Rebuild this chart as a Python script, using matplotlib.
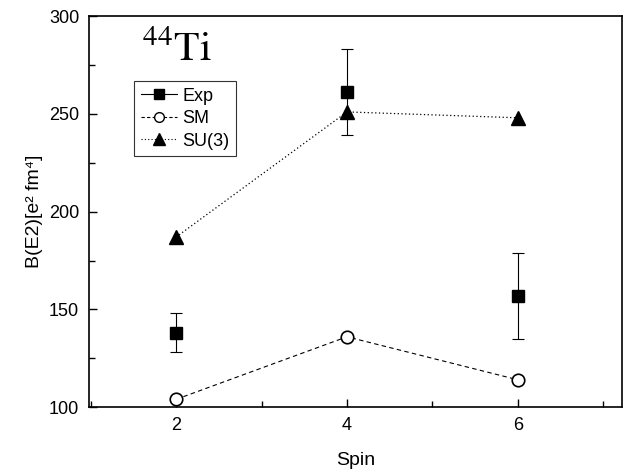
import numpy as np
import matplotlib
matplotlib.use("Agg")
import matplotlib.pyplot as plt
from matplotlib.lines import Line2D
from matplotlib.ticker import MultipleLocator

plt.rcParams['font.family'] = ['Liberation Sans', 'DejaVu Sans']
plt.rcParams['mathtext.fontset'] = 'stix'

# data
spin = [2, 4, 6]
exp_vals = [138, 261, 157]
exp_err = [10, 22, 22]
sm_vals = [104, 136, 114]
su3_vals = [187, 251, 248]

fig = plt.figure(figsize=(6.4, 4.74), dpi=100)
ax = fig.add_axes([0.139, 0.141, 0.833, 0.825])

# Exp points, no connecting line
ax.errorbar(spin, exp_vals, yerr=exp_err, fmt='s', color='black', ms=8,
            elinewidth=0.8, capsize=4, capthick=0.8, zorder=3)
ax.plot(spin, sm_vals, linestyle=(0, (4, 3)), color='black', lw=0.8,
        marker='o', ms=9, mfc='white', mec='black', mew=1.2)
ax.plot(spin, su3_vals, linestyle=(0, (1, 2)), color='black', lw=0.9,
        marker='^', ms=10, mfc='black', mec='black')

ax.set_xlim(0.98, 7.22)
ax.set_ylim(100, 300)
ax.xaxis.set_major_locator(MultipleLocator(2))
ax.xaxis.set_minor_locator(MultipleLocator(1))
ax.yaxis.set_major_locator(MultipleLocator(50))
ax.yaxis.set_minor_locator(MultipleLocator(25))
ax.tick_params(which='both', direction='in', top=False, right=False, labelsize=13)
ax.tick_params(which='major', length=6, width=1, pad=7)
ax.tick_params(which='minor', length=4, width=1)
for s in ax.spines.values():
    s.set_linewidth(1.2)

ax.set_xlabel('Spin', fontsize=14, labelpad=13)
ax.set_ylabel('B(E2)[e\u00b2 fm\u2074]', fontsize=14, labelpad=4)

ax.text(1.6, 277, r'$^{44}\mathrm{Ti}$', fontsize=30, ha='left', va='baseline')

handles = [
    Line2D([], [], color='black', lw=0.8, marker='s', ms=7, linestyle='-'),
    Line2D([], [], color='black', lw=0.8, marker='o', ms=7, mfc='white', linestyle=(0, (3, 2))),
    Line2D([], [], color='black', lw=0.8, marker='^', ms=8, linestyle=(0, (1, 2))),
]
leg = ax.legend(handles, ['Exp', 'SM', 'SU(3)'], loc='upper left',
                bbox_to_anchor=(0.085, 0.833), fontsize=13, frameon=True,
                fancybox=False, edgecolor='black', handlelength=2.0,
                handletextpad=0.3, borderpad=0.35, labelspacing=0.3,
                borderaxespad=0)
leg.get_frame().set_linewidth(0.8)

fig.savefig('out.png', dpi=100)
